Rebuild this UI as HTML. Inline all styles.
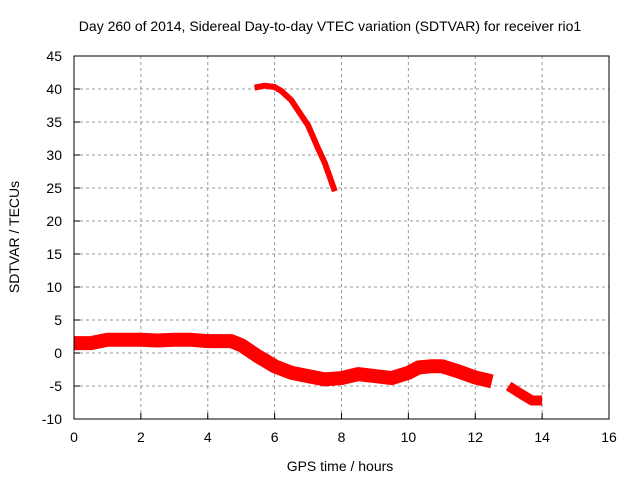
<!DOCTYPE html>
<html><head><meta charset="utf-8"><style>
body{margin:0;background:#fff}
svg{display:block;font-family:"Liberation Sans",sans-serif;font-size:14px}
</style></head><body>
<svg id="c" width="640" height="480">
<text x="330" y="31" text-anchor="middle">Day 260 of 2014, Sidereal Day-to-day VTEC variation (SDTVAR) for receiver rio1</text>
<text x="340" y="471" text-anchor="middle">GPS time / hours</text>
<text transform="translate(19,237) rotate(-90)" text-anchor="middle">SDTVAR / TECUs</text>
<g id="grid"></g><g id="series"></g>
<rect x="74" y="56" width="535" height="363" fill="none" stroke="#000"/>
<g id="ticks"></g>
</svg>
<script>
const xTicks=[0,2,4,6,8,10,12,14,16];
const yTicks=[-10,-5,0,5,10,15,20,25,30,35,40,45];
const lowHours=[0,0.5,1,1.5,2,2.5,3,3.5,4,4.7,5,5.5,6,6.5,7,7.5,8,8.5,9,9.5,10,10.3,10.7,11,11.5,12,12.5];
const lowValues=[1.5,1.5,2,2,2,1.9,2,2,1.8,1.8,1.2,-0.5,-2,-3,-3.5,-4,-3.8,-3.2,-3.5,-3.8,-3,-2.2,-2,-2,-2.8,-3.7,-4.3];
const tailHours=[13,13.3,13.7,14];
const tailValues=[-5,-6,-7.2,-7.2];
const highHours=[5.4,5.7,6,6.2,6.5,6.8,7,7.3,7.5,7.8];
const highValues=[40.2,40.5,40.3,39.7,38.3,36,34.5,31,28.8,24.5];
const X=h=>74+h*(535/16);
const Y=v=>353-v*6.6;
const NS='http://www.w3.org/2000/svg';
const g=document.getElementById('grid'),t=document.getElementById('ticks'),s=document.getElementById('series');
function mk(tag,a,p){const e=document.createElementNS(NS,tag);for(const k in a)e.setAttribute(k,a[k]);p.appendChild(e);return e;}
xTicks.forEach(v=>{const x=X(v);
 if(v>0&&v<16){const l=mk('line',{x1:x,x2:x,y1:56,y2:419,stroke:'#999','stroke-dasharray':'3,3'},g);}
 mk('line',{x1:x,x2:x,y1:419,y2:413,stroke:'#000'},t);
 const tx=mk('text',{x:x,y:442,'text-anchor':'middle'},t);tx.textContent=v;
 });
yTicks.forEach(v=>{const y=Y(v);
 if(v>-10&&v<45){const l=mk('line',{x1:74,x2:609,y1:y,y2:y,stroke:'#999','stroke-dasharray':'3,3'},g);}
 mk('line',{x1:74,x2:80,y1:y,y2:y,stroke:'#000'},t);
 const tx=mk('text',{x:62,y:y+5,'text-anchor':'end'},t);tx.textContent=v;
 });
function line(hs,vs,w,name){const p=mk('polyline',{points:hs.map((h,i)=>X(h)+','+Y(vs[i])).join(' '),fill:'none',stroke:'#f00','stroke-width':w,'stroke-linejoin':'round'},s);
 }
line(lowHours,lowValues,14,'sdtvar-series-main');
line(tailHours,tailValues,10,'sdtvar-series-tail');
line(highHours,highValues,6,'sdtvar-series-high');
</script>
</body></html>
